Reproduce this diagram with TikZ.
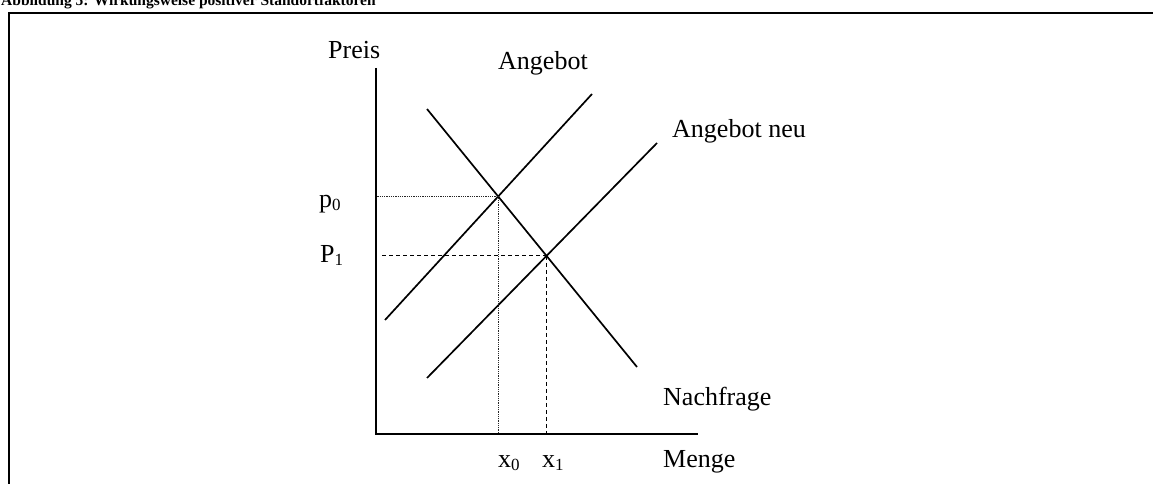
\documentclass[tikz,border=0pt]{standalone}
\usepackage{fontspec}
\setmainfont{Liberation Serif}
\usetikzlibrary{intersections}
\newcommand\subidx[1]{\raisebox{-0.14em}{\fontsize{17}{17}\selectfont #1}}
\begin{document}
\begin{tikzpicture}[x=1pt,y=-1pt,
  lbl/.style={anchor=base west, inner sep=0pt, font=\fontsize{26}{30}\selectfont},
  curve/.style={line width=1.7pt},
  axis/.style={line width=1.9pt},
  frame/.style={line width=2pt},
  guidedot/.style={line width=0.9pt, black!85, dash pattern=on 1pt off 0.8pt},
  guidedash/.style={line width=1pt, dash pattern=on 4pt off 3pt}]
\useasboundingbox (0,0) rectangle (1153,484);
\clip (0,0) rectangle (1153,484);
% title (cut off at the top, as in the reference) and frame
\node[anchor=base west, inner sep=0pt, font=\bfseries\fontsize{15.5}{18}\selectfont] (title) at (1,6) {Abbildung 5: Wirkungsweise positiver Standortfaktoren};
\coordinate (fr1) at (1200,13);
\coordinate (fr2) at (9,13);
\coordinate (fr3) at (9,520);
\draw[frame] (fr1) -- (fr2) -- (fr3);
% axes
\coordinate (O) at (376,434);
\coordinate (ytop) at (376,68);
\coordinate (xend) at (698,434);
\draw[axis] (ytop) -- (O) -- (xend);
% curves
\coordinate (A1) at (385,320); \coordinate (A2) at (592,94);
\coordinate (N1) at (427,109); \coordinate (N2) at (637,367);
\coordinate (B1) at (427,378); \coordinate (B2) at (657,143);
\draw[curve] (A1) -- (A2);
\draw[curve] (N1) -- (N2);
\draw[curve] (B1) -- (B2);
\coordinate (E0) at (intersection of A1--A2 and N1--N2);
\coordinate (E1) at (intersection of B1--B2 and N1--N2);
% guides
\draw[guidedot] (E0) -- (E0 -| O);
\draw[guidedot] (E0) -- (E0 |- O);
\draw[guidedash, shorten >=4pt] (E1) -- (E1 -| O);
\draw[guidedash] (E1) -- (E1 |- O);
% labels
\node[lbl] (preis) at (328,59) {Preis};
\node[lbl] (ang) at (498,70) {Angebot};
\node[lbl] (angneu) at (672,138) {Angebot neu};
\node[lbl] (nach) at (663,405) {Nachfrage};
\node[lbl] (menge) at (663,467) {Menge};
\node[lbl] (p0) at (319,207) {p\subidx{0}};
\node[lbl] (p1) at (320,262) {P\subidx{1}};
\node[lbl] (x0) at (498,467) {x\subidx{0}};
\node[lbl] (x1) at (542,467) {x\subidx{1}};
\end{tikzpicture}
\end{document}
